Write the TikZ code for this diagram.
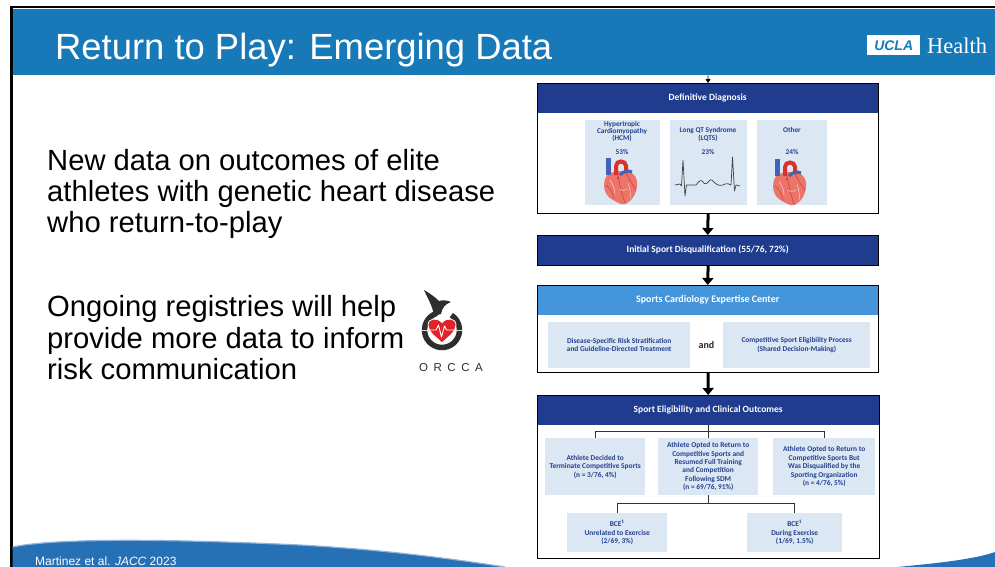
\documentclass[tikz,border=0pt]{standalone}
\usepackage{fontspec}
\setmainfont{Liberation Sans}
\newfontfamily\figfont{Carlito}
\newfontfamily\seriffont{Liberation Serif}
\usetikzlibrary{arrows.meta}

\definecolor{headerblue}{HTML}{1779B7}
\definecolor{navy}{HTML}{1F3C8E}
\definecolor{lightbar}{HTML}{4495D9}
\definecolor{panelblue}{HTML}{DCE7F4}
\definecolor{paneltext}{HTML}{24408E}
\definecolor{wavecol}{HTML}{2670B6}
\definecolor{waveedge}{HTML}{8FB3D9}
\definecolor{heartpink}{HTML}{EC7468}
\definecolor{heartdark}{HTML}{C9453D}
\definecolor{arteryred}{HTML}{D8322A}
\definecolor{veinblue}{HTML}{4262B5}
\definecolor{orcadark}{HTML}{2E2E2E}
\definecolor{orcared}{HTML}{E0232B}

\tikzset{
  % slide text
  bodyline/.style={anchor=base west,inner sep=0,font=\fontsize{29.2}{31}\selectfont},
  % flowchart pieces
  framebox/.style={draw=black,line width=1.2pt,anchor=north west,inner sep=0,minimum width=341pt},
  darkbar/.style={fill=navy,anchor=north west,inner sep=0,minimum width=341pt,minimum height=30pt,
    text=white,font=\figfont\bfseries\fontsize{9.5}{11}\selectfont},
  palebar/.style={darkbar,fill=lightbar,font=\figfont\bfseries\fontsize{10}{11}\selectfont},
  infopanel/.style={fill=panelblue,anchor=north west,inner sep=1pt,align=center,text=paneltext,
    font=\figfont\bfseries\fontsize{7.4}{8.4}\selectfont},
  paneltxt/.style={inner sep=0,anchor=base,text=paneltext,align=center,
    font=\figfont\bfseries\fontsize{7.3}{7.4}\selectfont},
  flowarrow/.style={line width=3pt,-{Triangle[length=7pt,width=11pt]}},
  treeline/.style={line width=0.8pt,draw=black!80},
  % anatomical heart used in the diagnosis panels
  cardiac/.pic={
    \fill[heartpink] (-14,-6) .. controls (-19,2) and (-18,14) .. (-8,19)
        .. controls (-3,22) and (1,24) .. (4,23)
        .. controls (12,20) and (17,10) .. (16,0)
        .. controls (15,-7) and (8,-11) .. (1,-10)
        .. controls (-5,-10) and (-10,-9) .. (-14,-6) -- cycle;
    \draw[heartdark,line width=0.6pt] (-3,-6) .. controls (-1,6) and (1,13) .. (4,22);
    \draw[heartdark,line width=0.6pt] (5,-8) .. controls (9,-1) and (12,5) .. (15,9);
    \draw[heartdark,line width=0.5pt] (-15,4) .. controls (-10,8) and (-8,13) .. (-7,18);
    \draw[white,line width=0.5pt,opacity=0.7] (-11,-1) .. controls (-8,4) and (-6,8) .. (-6,13);
    \draw[white,line width=0.5pt,opacity=0.7] (7,2) .. controls (9,8) and (10,13) .. (9,18);
    \draw[white,line width=0.5pt,opacity=0.6] (-2,8) .. controls (0,10) and (3,10) .. (6,8);
    \fill[veinblue] (-15,-23) rectangle (-10,-6);
    \draw[arteryred,line width=4pt] (-5,-6) -- (-5,-15) .. controls (-5,-21) and (5,-21) .. (5,-15) -- (5,-8);
    \draw[veinblue,line width=3pt] (-1,-6) .. controls (3,-10) and (7,-11) .. (11,-9);
    \fill[heartdark] (-3,-3) circle (1.4);
  }
}

\begin{document}
\begin{tikzpicture}[x=1pt,y=-1pt]
\useasboundingbox (0,0) rectangle (995,567);
\fill[white] (0,0) rectangle (995,567);

% ---------- slide frame and title bar ----------
\fill[black] (10,5.8) rectangle (995,7.8);
\fill[black] (10.3,5.8) rectangle (12.6,567);
\fill[headerblue] (13.3,9) rectangle (995,75);
\node[anchor=base west,inner sep=0,text=white,font=\fontsize{36.4}{40}\selectfont] (title) at (55,60)
  {Return to Play: Emerging Data};

% UCLA Health mark
\node[fill=white,minimum width=53pt,minimum height=20pt,inner sep=0,anchor=north west] (uclabox) at (867,35) {};
\node[text=headerblue,inner sep=0,font=\bfseries\itshape\fontsize{14}{15}\selectfont] (ucla) at (uclabox.center) {UCLA};
\node[anchor=base west,inner sep=0,text=white,font=\seriffont\fontsize{22.5}{24}\selectfont] (health) at (927,54) {Health};

% ---------- body text ----------
\node[bodyline] (p1a) at (47,170) {New data on outcomes of elite};
\node[bodyline] (p1b) at (47,201) {athletes with genetic heart disease};
\node[bodyline] (p1c) at (47,232) {who return-to-play};
\node[bodyline] (p2a) at (47,316) {Ongoing registries will help};
\node[bodyline] (p2b) at (47,348) {provide more data to inform};
\node[bodyline] (p2c) at (47,379) {risk communication};

% ---------- ORCCA logo ----------
\begin{scope}[shift={(442,330)},yscale=-1]
  \draw[orcadark,line width=5.5pt] (108:17.5) arc[start angle=108,end angle=418,radius=17.5];
  \fill[orcadark] (-8,14) .. controls (-9,23) and (-14,31) .. (-18,40)
     .. controls (-11,36) and (-6,32) .. (-3,29)
     .. controls (0,30) and (5,30) .. (9,28)
     .. controls (3,26) and (0,22) .. (-1,16) -- cycle;
  \fill[orcared,draw=white,line width=0.8pt] (0,-13) .. controls (-6,-7) and (-14,-2) .. (-14,5)
     .. controls (-14,12) and (-5,13) .. (0,7.5)
     .. controls (5,13) and (14,12) .. (14,5)
     .. controls (14,-2) and (6,-7) .. (0,-13) -- cycle;
  \draw[black!15,line width=0.9pt] (-21,0) -- (-13.5,0);
  \draw[black!15,line width=0.9pt] (13.5,0) -- (21,0);
  \draw[white,line width=0.9pt,line join=round] (-13.5,0) -- (-6,0) -- (-3.5,5) -- (-0.5,-7) -- (2.5,4) -- (4.5,0) -- (13.5,0);
\end{scope}
\node[text=orcadark,inner sep=0,anchor=base,font=\fontsize{11.5}{12}\selectfont] (orcca) at (451,371)
  {O\kern5.5pt R\kern5.5pt C\kern5.5pt C\kern5.5pt A};

% ---------- flowchart ----------
\coordinate (entry) at (708,75.5);

% Definitive Diagnosis
\node[darkbar] (bar1) at (537,83) {Definitive Diagnosis};
\node[fill=panelblue,anchor=north west,minimum width=75pt,minimum height=85pt,inner sep=0] (hcm) at (585,120) {};
\node[fill=panelblue,anchor=north west,minimum width=77pt,minimum height=85pt,inner sep=0] (lqts) at (670,120) {};
\node[fill=panelblue,anchor=north west,minimum width=70pt,minimum height=85pt,inner sep=0] (other) at (757,120) {};
\node[framebox,minimum height=130pt] (frame1) at (537,83) {};

\node[paneltxt] (hcmt1) at (622,126) {Hypertropic};
\node[paneltxt] (hcmt2) at (622,133) {Cardiomyopathy};
\node[paneltxt] (hcmt3) at (622,140) {(HCM)};
\node[paneltxt] (hcmp) at (622,154) {53\%};
\node[paneltxt] (lqt1) at (708,132) {Long QT Syndrome};
\node[paneltxt] (lqt2) at (708,140) {(LQTS)};
\node[paneltxt] (lqtp) at (708,154) {23\%};
\node[paneltxt] (oth1) at (792,132) {Other};
\node[paneltxt] (othp) at (792,154) {24\%};

\pic at (621,181) {cardiac};
\pic at (790,182) {cardiac};
\draw[black!75,line width=0.7pt,line join=round] (675,185) -- (680,184) -- (681.5,186) -- (683,160)
  -- (685,196) -- (686.5,185) -- (696,185) .. controls (699,181) and (701,179) .. (703,182)
  .. controls (705,185) and (707,184) .. (709,181) .. controls (711,178) and (713,181) .. (715,183)
  .. controls (718,186) and (722,186) .. (725,184) .. controls (727,183) and (729,184) .. (731,185)
  -- (732.5,157) -- (734.5,191) -- (736,185) -- (740,186);

% Initial Sport Disqualification
\node[darkbar] (bar2) at (537,235) {Initial Sport Disqualification (55/76, 72\%)};
\node[framebox,minimum height=30pt] (frame2) at (537,235) {};

% Sports Cardiology Expertise Center
\node[palebar] (bar3) at (537,285) {Sports Cardiology Expertise Center};
\node[infopanel,minimum width=142pt,minimum height=46pt] (risk) at (548,322)
  {Disease-Specific Risk Stratification\\and Guideline-Directed Treatment};
\node[infopanel,minimum width=147pt,minimum height=46pt] (sde) at (723,322)
  {Competitive Sport Eligibility Process\\(Shared Decision-Making)};
\node[inner sep=0,text=black!85,font=\figfont\bfseries\fontsize{10}{11}\selectfont] (and) at (706.5,345) {and};
\node[framebox,minimum height=87pt] (frame3) at (537,285) {};

% Sport Eligibility and Clinical Outcomes
\node[darkbar,minimum width=342pt] (bar4) at (537,395) {Sport Eligibility and Clinical Outcomes};
\node[infopanel,minimum width=100pt,minimum height=57pt] (quit) at (545,438)
  {Athlete Decided to\\Terminate Competitive Sports\\(n = 3/76, 4\%)};
\node[infopanel,minimum width=100pt,minimum height=57pt] (rtp) at (658,438)
  {Athlete Opted to Return to\\Competitive Sports and\\Resumed Full Training\\and Competition\\Following SDM\\(n = 69/76, 91\%)};
\node[infopanel,minimum width=102pt,minimum height=57pt] (dq) at (773,438)
  {Athlete Opted to Return to\\Competitive Sports But\\Was Disqualified by the\\Sporting Organization\\(n = 4/76, 5\%)};
\node[infopanel,minimum width=100pt,minimum height=39pt] (bce1) at (567,513)
  {BCE\textsuperscript{1}\\Unrelated to Exercise\\(2/69, 3\%)};
\node[infopanel,minimum width=95pt,minimum height=39pt] (bce2) at (747,513)
  {BCE\textsuperscript{1}\\During Exercise\\(1/69, 1.5\%)};
\node[framebox,minimum width=342pt,minimum height=163pt] (frame4) at (537,395) {};

% connectors
\draw[line width=0.8pt,-{Triangle[length=4pt,width=5pt]}] (entry) -- (frame1.north);
\draw[flowarrow] (frame1.south) -- (bar2.north);
\draw[flowarrow] (frame2.south) -- (bar3.north);
\draw[flowarrow] (frame3.south) -- (bar4.north);

\draw[treeline] (bar4.south) -- ++(0,6) coordinate (split1);
\draw[treeline] (quit.north) |- (split1) -| (dq.north);
\draw[treeline] (split1) -- (rtp.north);
\draw[treeline] (rtp.south) -- ++(0,8) coordinate (split2);
\draw[treeline] (bce1.north) |- (split2) -| (bce2.north);

% ---------- footer waves ----------
\fill[wavecol] (12.6,567) -- (12.6,547) .. controls (50,539) and (150,538) .. (300,545)
  .. controls (390,550) and (460,560) .. (505,567) -- cycle;
\draw[waveedge,line width=1.2pt] (12.6,547) .. controls (50,539) and (150,538) .. (300,545)
  .. controls (390,550) and (460,560) .. (505,567);
\fill[wavecol] (897,567) .. controls (940,563) and (975,559) .. (995,552) -- (995,567) -- cycle;
\node[anchor=base west,inner sep=0,text=white,font=\fontsize{12}{13}\selectfont] (cite) at (35,565.5)
  {Martinez et al. \textit{JACC} 2023};
\end{tikzpicture}
\end{document}
